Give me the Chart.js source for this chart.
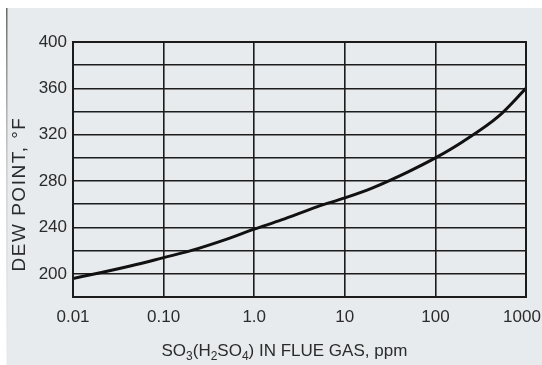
<!DOCTYPE html>
<html><head><meta charset="utf-8">
<script src="https://cdn.jsdelivr.net/npm/chart.js@4"></script>
<style>html,body{margin:0;padding:0;background:#fff;}#wrap{width:542px;height:365px;}</style>
</head><body><div id="wrap"><canvas id="c" width="542" height="365"></canvas></div>
<script>
// SO3 concentration (ppm) and acid dew point (°F)
const ppm      = [0.01, 0.02, 0.05, 0.1, 0.2, 0.5, 1, 2, 5, 10, 20, 50, 100, 200, 500, 1000];
const dewPoint = [196, 201, 208, 214, 220, 230, 238.5, 246.5, 258, 265.5, 274, 288, 300, 314, 336, 360];
const xTickValues = [0.01, 0.1, 1, 10, 100, 1000];
const xTickLabels = ['0.01', '0.10', '1.0', '10', '100', '1000'];
const yGridValues = [180, 200, 220, 240, 260, 280, 300, 320, 340, 360, 380, 400];
const yTickValues = [200, 240, 280, 320, 360, 400];
const xTitleParts = [['SO', 0], ['3', 1], ['(H', 0], ['2', 1], ['SO', 0], ['4', 1], [') IN FLUE GAS, ppm', 0]];
const yTitle = 'DEW POINT, \u00B0F';

const FONT = '"Liberation Sans", Arial, Helvetica, sans-serif';
const INK = '#1c1c1c';
const TXT = '#2b2b2b';

const bgPlugin = {
  id: 'bg',
  beforeDraw(chart) {
    const ctx = chart.ctx;
    ctx.save();
    ctx.fillStyle = '#ffffff';
    ctx.fillRect(0, 0, chart.width, chart.height);
    ctx.fillStyle = '#e8ebee';
    ctx.fillRect(7, 8, chart.width - 7, chart.height - 8);
    const g = ctx.createLinearGradient(0, 8, 0, chart.height);
    g.addColorStop(0, 'rgba(90,90,80,0.9)');
    g.addColorStop(0.5, 'rgba(170,175,175,0.5)');
    g.addColorStop(1, 'rgba(220,225,228,0.3)');
    ctx.fillStyle = g;
    ctx.fillRect(6, 8, 1.5, chart.height - 8);
    // keep the last x label inside the canvas, as in the original
    const items = chart.scales.x.getLabelItems();
    if (items.length && !items._shifted) {
      items[items.length - 1].options.translation[0] -= 4;
      items._shifted = true;
    }
    ctx.restore();
  }
};

const framePlugin = {
  id: 'frame',
  afterDatasetsDraw(chart) {
    const a = chart.chartArea, ctx = chart.ctx;
    ctx.save();
    ctx.strokeStyle = INK;
    ctx.lineWidth = 2;
    ctx.strokeRect(a.left, a.top, a.right - a.left, a.bottom - a.top);
    ctx.restore();
  }
};

const titlePlugin = {
  id: 'titles',
  afterDraw(chart) {
    const ctx = chart.ctx;
    ctx.save();
    ctx.fillStyle = TXT;
    ctx.textBaseline = 'alphabetic';
    ctx.textAlign = 'left';
    let x = 161.5;
    const base = 356;
    for (const [t, sub] of xTitleParts) {
      ctx.font = (sub ? '12px ' : '17px ') + FONT;
      ctx.fillText(t, x, sub ? base + 4 : base);
      x += ctx.measureText(t).width;
    }
    ctx.translate(20, 194);
    ctx.rotate(-Math.PI / 2);
    ctx.font = '19px ' + FONT;
    try { ctx.letterSpacing = '1.5px'; } catch (e) {}
    ctx.textAlign = 'center';
    ctx.textBaseline = 'middle';
    ctx.fillText(yTitle, 0, 0);
    ctx.restore();
  }
};

new Chart(document.getElementById('c'), {
  type: 'line',
  data: {
    datasets: [{
      data: ppm.map((v, i) => ({ x: v, y: dewPoint[i] })),
      borderColor: '#111111',
      borderWidth: 3,
      pointRadius: 0,
      fill: false,
      cubicInterpolationMode: 'monotone'
    }]
  },
  options: {
    responsive: false,
    devicePixelRatio: 1,
    animation: false,
    layout: { padding: { top: 42, right: 16, left: 0, bottom: 0 } },
    plugins: { legend: { display: false }, tooltip: { enabled: false }, title: { display: false } },
    scales: {
      x: {
        type: 'logarithmic',
        min: 0.01,
        max: 1000,
        afterBuildTicks: s => { s.ticks = xTickValues.map(v => ({ value: v })); },
        afterFit: s => { s.height = 68; s.paddingLeft = 0; s.paddingRight = 0; },
        ticks: {
          autoSkip: false,
          maxRotation: 0,
          minRotation: 0,
          padding: 10,
          color: TXT,
          font: { family: FONT, size: 17 },
          callback: v => {
            const i = xTickValues.findIndex(t => Math.abs(t - v) / t < 1e-6);
            return i >= 0 ? xTickLabels[i] : '';
          }
        },
        grid: { color: INK, lineWidth: 1.6, drawTicks: false },
        border: { display: true, color: INK, width: 2 }
      },
      y: {
        type: 'linear',
        min: 180,
        max: 400,
        afterBuildTicks: s => { s.ticks = yGridValues.map(v => ({ value: v })); },
        afterFit: s => { s.width = 73; },
        ticks: {
          autoSkip: false,
          padding: 6,
          color: TXT,
          font: { family: FONT, size: 17 },
          callback: v => yTickValues.includes(v) ? String(v) : ''
        },
        grid: { color: INK, lineWidth: 1.6, drawTicks: false },
        border: { display: true, color: INK, width: 2 }
      }
    }
  },
  plugins: [bgPlugin, framePlugin, titlePlugin]
});
</script>
</body></html>
